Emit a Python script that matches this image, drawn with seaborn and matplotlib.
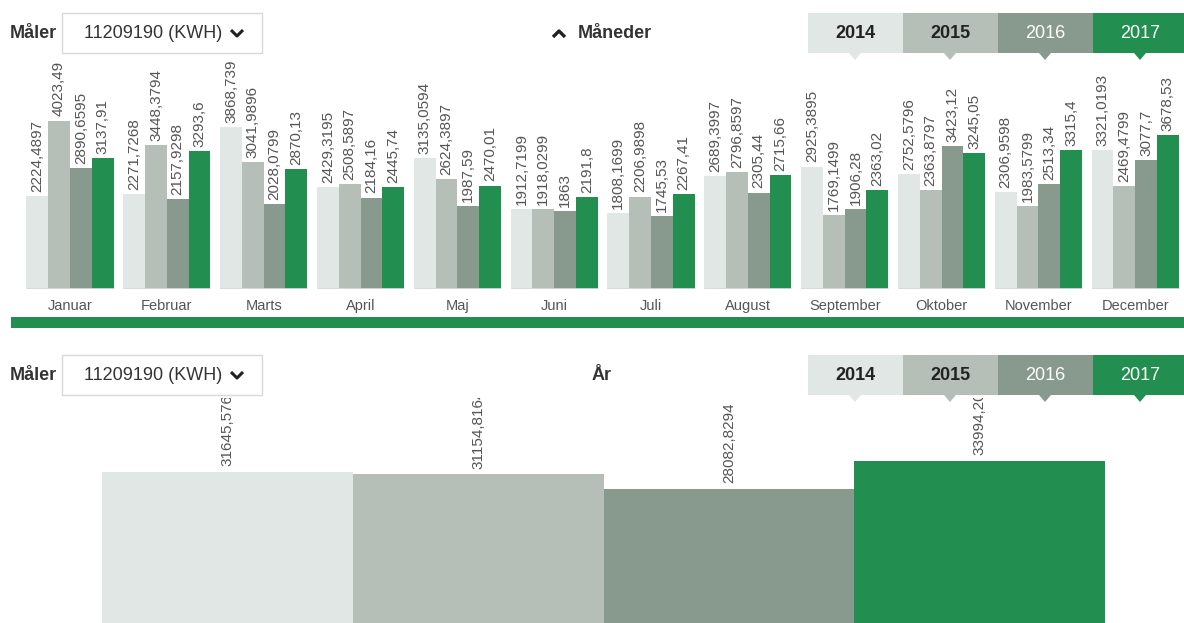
import numpy as np
import pandas as pd
import seaborn as sns
import matplotlib.pyplot as plt
from matplotlib.patches import Rectangle, Polygon

# data (kWh, meter 11209190)
months = ['Januar', 'Februar', 'Marts', 'April', 'Maj', 'Juni', 'Juli',
          'August', 'September', 'Oktober', 'November', 'December']
years = ['2014', '2015', '2016', '2017']
kwh_2014 = [2224.4897, 2271.7268, 3868.739, 2429.3195, 3135.0594, 1912.7199,
            1808.1699, 2689.3997, 2925.3895, 2752.5796, 2306.9598, 3321.0193]
kwh_2015 = [4023.49, 3448.3794, 3041.9896, 2508.5897, 2624.3897, 1918.0299,
            2206.9898, 2796.8597, 1769.1499, 2363.8797, 1983.5799, 2469.4799]
kwh_2016 = [2890.6595, 2157.9298, 2028.0799, 2184.16, 1987.59, 1863,
            1745.53, 2305.44, 1906.28, 3423.12, 2513.34, 3077.7]
kwh_2017 = [3137.91, 3293.6, 2870.13, 2445.74, 2470.01, 2191.8,
            2267.41, 2715.66, 2363.02, 3245.05, 3315.4, 3678.53]
year_totals = [31645.5762, 31154.8164, 28082.8294, 33994.2012]

colors = ['#e1e7e4', '#b5bfb8', '#889a8d', '#228f50']
W, H = 1184, 623


def fmt(v):
    s = repr(v)
    if s.endswith('.0'):
        s = s[:-2]
    return s.replace('.', ',')


sns.set_style('white')
plt.rcParams['font.family'] = ['Liberation Sans', 'DejaVu Sans']

fig = plt.figure(figsize=(W / 100, H / 100), dpi=100)

# overlay in pixel coordinates for the header widgets
ov = fig.add_axes([0, 0, 1, 1], zorder=0)
ov.set_xlim(0, W)
ov.set_ylim(H, 0)
ov.axis('off')


def header(y0, title, chevron_up):
    yc = y0 + 20
    ov.text(10, yc, 'Måler', fontsize=13, fontweight='bold', color='#333333', va='center')
    ov.add_patch(Rectangle((62, y0), 200, 40, fc='white', ec='#d9d9d9', lw=1))
    ov.text(84, yc, '11209190 (KWH)', fontsize=13, color='#333333', va='center')
    ov.plot([231, 237, 243], [yc - 3, yc + 3, yc - 3], color='#222222', lw=2.2,
            solid_capstyle='butt')
    if chevron_up:
        ov.plot([553, 559, 565], [yc + 4, yc - 2, yc + 4], color='#222222', lw=2.4,
                solid_capstyle='butt')
        ov.text(578, yc, title, fontsize=13, fontweight='bold', color='#333333', va='center')
    else:
        ov.text(592, yc, title, fontsize=13, fontweight='bold', color='#333333', va='center')
    for i, yr in enumerate(years):
        x0 = 808 + 95 * i
        w = min(95, W - x0)
        ov.add_patch(Rectangle((x0, y0), w, 40, fc=colors[i], ec='none'))
        cx = 855 + 95 * i
        ov.add_patch(Polygon([(cx - 6, y0 + 40), (cx + 6, y0 + 40), (cx, y0 + 47)],
                             closed=True, fc=colors[i], ec='none'))
        dark = i < 2
        ov.text(cx, yc, yr, fontsize=13, ha='center', va='center',
                color='#222222' if dark else 'white',
                fontweight='bold' if dark else 'normal')


header(13, 'Måneder', True)
header(355, 'År', False)

# green divider
ov.add_patch(Rectangle((11, 317), W - 11, 11, fc='#228f50', ec='none'))

# monthly chart
df = pd.DataFrame({
    'month': months * 4,
    'year': np.repeat(years, len(months)),
    'kwh': kwh_2014 + kwh_2015 + kwh_2016 + kwh_2017,
})
series = [kwh_2014, kwh_2015, kwh_2016, kwh_2017]

ax1 = fig.add_axes([21.6 / W, (H - 289) / H, 1162 / W, 229 / H])
ax1.set_facecolor('none')
sns.barplot(data=df, x='month', y='kwh', hue='year', palette=colors, width=0.9,
            saturation=1, linewidth=0, edgecolor='none', ax=ax1, legend=False)
for cont, vals in zip(ax1.containers, series):
    ax1.bar_label(cont, labels=[fmt(v) for v in vals], rotation=90, padding=3,
                  fontsize=11, color='#555555')
pos = np.arange(len(months))
ax1.hlines(np.zeros(len(months)), pos - 0.45, pos + 0.45, color='#d5dad7', lw=2)
ax1.set_xlim(-0.5, 11.5)
ax1.set_ylim(0, 229 * 23.9)
ax1.set_xlabel('')
ax1.set_ylabel('')
ax1.set_yticks([])
ax1.tick_params(axis='x', length=0, pad=7, labelsize=10.5, labelcolor='#555555')
sns.despine(ax=ax1, left=True, bottom=True)

# yearly chart
ax2 = fig.add_axes([102 / W, 0, 1003 / W, 225 / H])
ax2.set_facecolor('none')
sns.barplot(x=years, y=year_totals, hue=years, palette=colors, width=1.0,
            saturation=1, linewidth=0, edgecolor='none', ax=ax2, legend=False)
for cont, v in zip(ax2.containers, year_totals):
    ax2.bar_label(cont, labels=[fmt(v)], rotation=90, padding=4, fontsize=11,
                  color='#555555', clip_on=True)
ax2.set_xlim(-0.5, 3.5)
ax2.set_ylim(0, 225 * 209.6)
ax2.set_xticks([])
ax2.set_yticks([])
sns.despine(ax=ax2, left=True, bottom=True)

fig.savefig('out.png', dpi=100)
